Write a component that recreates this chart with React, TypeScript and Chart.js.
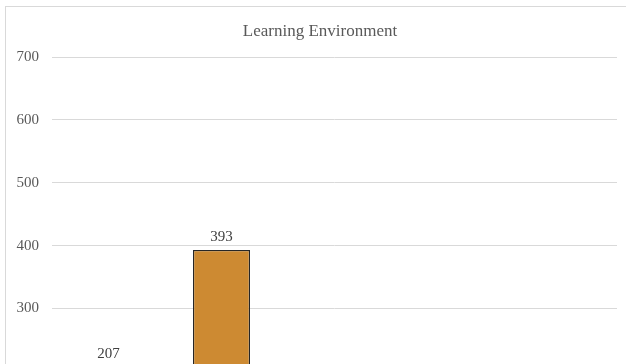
import React, { useEffect, useRef } from "react";
import { Chart, registerables } from "chart.js";

Chart.register(...registerables);

const categories: string[] = ["Strongly Agree", "Agree", "Neutral", "Disagree", "Strongly Disagree"];
const counts: number[] = [207, 393, 120, 45, 15];
const yTicks: number[] = [0, 100, 200, 300, 400, 500, 600, 700];
const chartTitle = "Learning Environment";

const FONT = "'Liberation Serif', 'Times New Roman', serif";

const dataLabelPlugin = {
  id: "dataLabels",
  afterDatasetsDraw(chart: any) {
    const ctx = chart.ctx;
    const meta = chart.getDatasetMeta(0);
    ctx.save();
    ctx.font = `15px ${FONT}`;
    ctx.fillStyle = "#404040";
    ctx.textAlign = "center";
    ctx.textBaseline = "alphabetic";
    meta.data.forEach((bar: any, i: number) => {
      const v = chart.data.datasets[0].data[i];
      ctx.fillText(String(v), bar.x, bar.y - 9);
    });
    ctx.restore();
  },
};

const titlePlugin = {
  id: "centeredTitle",
  afterDraw(chart: any) {
    const ctx = chart.ctx;
    ctx.save();
    ctx.font = `17px ${FONT}`;
    ctx.fillStyle = "#595959";
    ctx.textAlign = "center";
    ctx.textBaseline = "middle";
    ctx.fillText(chartTitle, chart.width / 2 - 1, 24.5);
    ctx.restore();
  },
};

export default function App() {
  const canvasRef = useRef<HTMLCanvasElement | null>(null);

  useEffect(() => {
    if (!canvasRef.current) return;
    const chart = new Chart(canvasRef.current, {
      type: "bar",
      data: {
        labels: categories,
        datasets: [
          {
            data: counts,
            backgroundColor: "#CD8A32",
            borderColor: "#262626",
            borderWidth: 1.3,
            borderSkipped: false,
            categoryPercentage: 1,
            barPercentage: 0.505,
          },
        ],
      },
      options: {
        responsive: true,
        maintainAspectRatio: false,
        animation: false,
        layout: { padding: { left: 0, right: 19, top: 50, bottom: 18 } },
        plugins: {
          legend: { display: false },
          tooltip: { enabled: false },
          title: { display: false },
        },
        scales: {
          x: {
            grid: { display: false },
            border: { display: false },
            ticks: {
              color: "#595959",
              font: { family: FONT, size: 15 },
              maxRotation: 0,
              autoSkip: false,
            },
            afterFit: (axis: any) => {
              axis.height = 30;
            },
          },
          y: {
            min: 0,
            max: 700,
            afterBuildTicks: (axis: any) => {
              axis.ticks = yTicks.map((v) => ({ value: v }));
            },
            grid: { color: "#d9d9d9", lineWidth: 1, drawTicks: false },
            border: { display: false },
            ticks: {
              color: "#595959",
              font: { family: FONT, size: 15 },
              padding: 13,
            },
            afterFit: (axis: any) => {
              axis.width = 46;
            },
          },
        },
      },
      plugins: [dataLabelPlugin, titlePlugin],
    });
    return () => chart.destroy();
  }, []);

  return (
    <div
      style={{
        position: "fixed",
        left: 0,
        top: 0,
        width: 626,
        height: 364,
        overflow: "hidden",
        background: "#ffffff",
      }}
    >
      <div
        style={{
          position: "absolute",
          left: 5,
          top: 6,
          width: 632,
          height: 540,
          border: "1px solid #d9d9d9",
          boxSizing: "border-box",
          background: "#ffffff",
        }}
      >
        <div style={{ position: "relative", width: 630, height: 538 }}>
          <canvas ref={canvasRef} />
        </div>
      </div>
    </div>
  );
}
